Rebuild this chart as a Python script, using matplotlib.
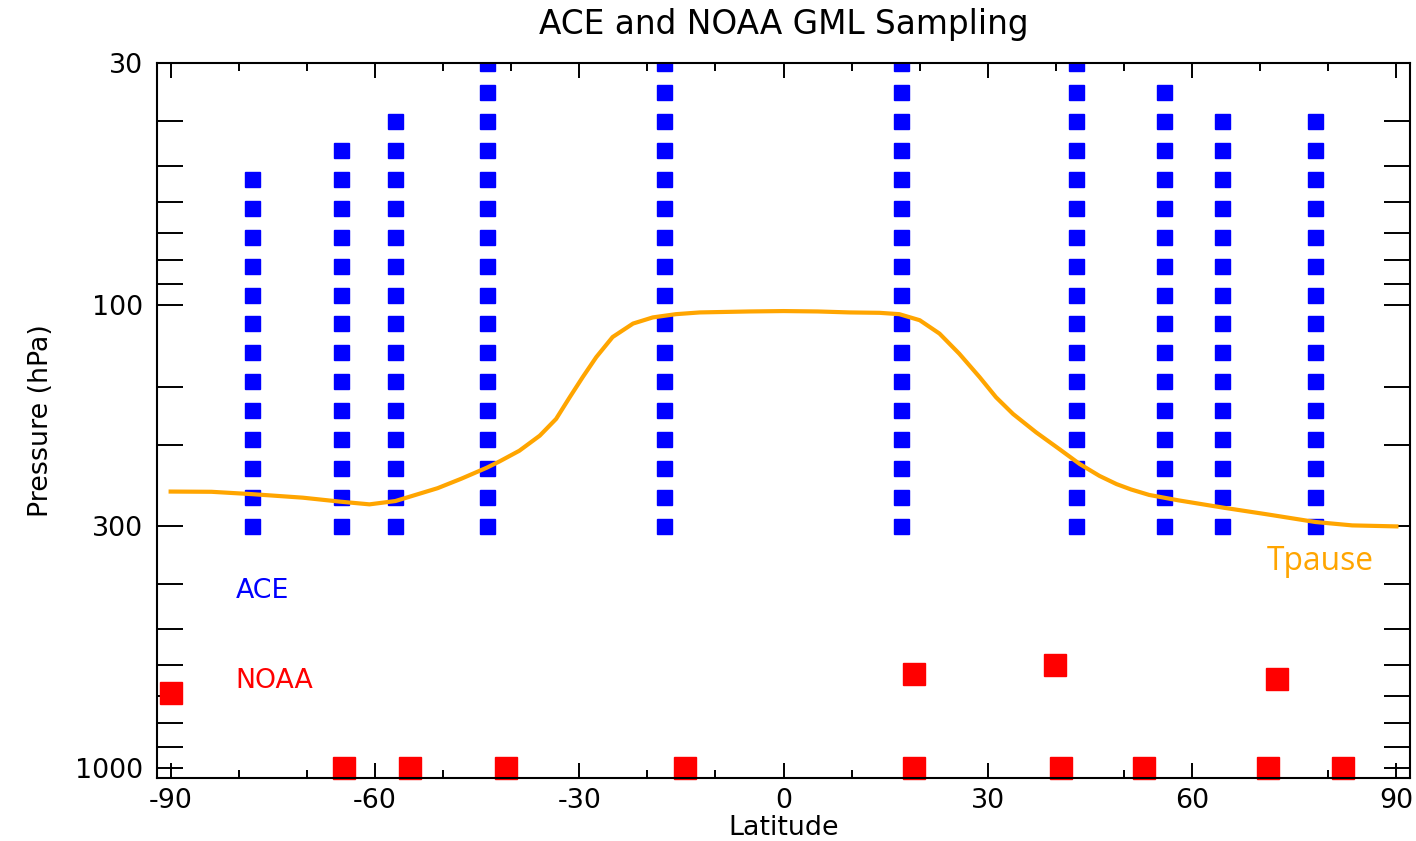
import matplotlib
matplotlib.use('Agg')
import matplotlib.pyplot as plt
from matplotlib.ticker import FixedLocator, NullFormatter

# ACE profile columns: latitude and the highest level (hPa) sampled in each
ace_lats = [-78.0, -65.0, -57.0, -43.6, -17.6, 17.3, 43.0, 55.9, 64.4, 78.1]
ace_tops = [53.35, 46.20, 40.01, 30.0, 30.0, 30.0, 30.0, 34.64, 40.01, 40.01]
# ACE pressure levels (hPa), bottom up
ace_levels = [300.0, 259.79, 224.97, 194.82, 168.70, 146.09, 126.51, 109.55,
              94.87, 82.15, 71.14, 61.61, 53.35, 46.20, 40.01, 34.64, 30.0]

# NOAA GML sampling sites
noaa_lats = [-64.6, -54.9, -40.8, -14.5, 19.2, 40.8, 52.9, 71.1, 82.2,
             -90.0, 19.2, 39.8, 72.4]
noaa_pres = [1000, 1000, 1000, 1000, 1000, 1000, 1000, 1000, 1000,
             688, 625, 598, 641]

# Tropopause pressure vs latitude
tp_lats = [-90, -84, -78, -70.6, -65, -60.8, -57, -50.8, -47.3, -43.6, -41.7,
           -38.8, -35.8, -33.4, -31.4, -29.5, -27.5, -25.1, -22.1, -19.2,
           -15.8, -12.3, -5, 0, 5, 9.7, 14.1, 17.0, 20.0, 22.9, 25.8, 28.8,
           31.2, 33.7, 37.1, 40.5, 43.5, 46.4, 48.9, 51.0, 53.7, 58.0, 64.6,
           71.0, 78.1, 83.5, 90]
tp_pres = [252.7, 253, 256, 260.5, 265.8, 269.3, 264.9, 248.5, 237, 224.5,
           217.5, 206.3, 191.4, 176.1, 158.1, 143.1, 129.5, 117.2, 109.6,
           106.3, 104.6, 103.7, 103.2, 103.0, 103.2, 103.7, 103.9, 104.6,
           107.8, 115.2, 127.3, 143.1, 158.1, 171.8, 188.3, 204.6, 220.4,
           233.8, 243.5, 250, 257, 264, 273.8, 283, 294, 299, 300.5]

x_ticks = [-90, -60, -30, 0, 30, 60, 90]
y_ticks = [30, 100, 300, 1000]
y_minor = [40, 50, 60, 70, 80, 90, 150, 200, 400, 500, 600, 700, 800, 900]

plt.rcParams['font.family'] = 'DejaVu Sans'
fig = plt.figure(figsize=(14.16, 8.41), dpi=100)
ax = fig.add_axes([0.1109, 0.0749, 0.8849, 0.8502])

for lat, top in zip(ace_lats, ace_tops):
    levs = [p for p in ace_levels if p >= top - 0.01]
    ax.plot([lat] * len(levs), levs, linestyle='none', marker='s',
            markersize=10.8, color='blue', zorder=2)

ax.plot(noaa_lats, noaa_pres, linestyle='none', marker='s',
        markersize=15.8, color='red', zorder=2, clip_on=False)

ax.plot(tp_lats, tp_pres, color='orange', linewidth=3.0, zorder=3,
        solid_joinstyle='round')

ax.text(-80.5, 415, 'ACE', color='blue', fontsize=19.3, va='center', ha='left')
ax.text(-80.5, 647, 'NOAA', color='red', fontsize=19.3, va='center', ha='left')
ax.text(70.9, 357, 'Tpause', color='orange', fontsize=22.9, va='center',
        ha='left', family='Open Sans')

ax.set_yscale('log')
ax.set_xlim(-92, 92)
ax.set_ylim(1050, 30)
ax.set_xticks(x_ticks)
ax.set_xticklabels([str(v) for v in x_ticks])
ax.xaxis.set_minor_locator(FixedLocator(list(range(-90, 91, 10))))
ax.yaxis.set_major_locator(FixedLocator(y_ticks))
ax.set_yticklabels([str(v) for v in y_ticks])
ax.yaxis.set_minor_locator(FixedLocator(y_minor))
ax.yaxis.set_minor_formatter(NullFormatter())

ax.tick_params(axis='both', which='both', direction='in', top=True,
               right=True, width=1.4, labelsize=19.4)
ax.tick_params(axis='x', which='major', length=11, pad=7)
ax.tick_params(axis='x', which='minor', length=5.5)
ax.tick_params(axis='y', which='both', length=19, pad=10)
for sp in ax.spines.values():
    sp.set_linewidth(1.5)

ax.set_xlabel('Latitude', fontsize=19.4, labelpad=1)
ax.set_ylabel('Pressure (hPa)', fontsize=19.4, labelpad=15)
ax.set_title('ACE and NOAA GML Sampling', fontsize=23.6, pad=21)

fig.savefig('out.png', dpi=100)
